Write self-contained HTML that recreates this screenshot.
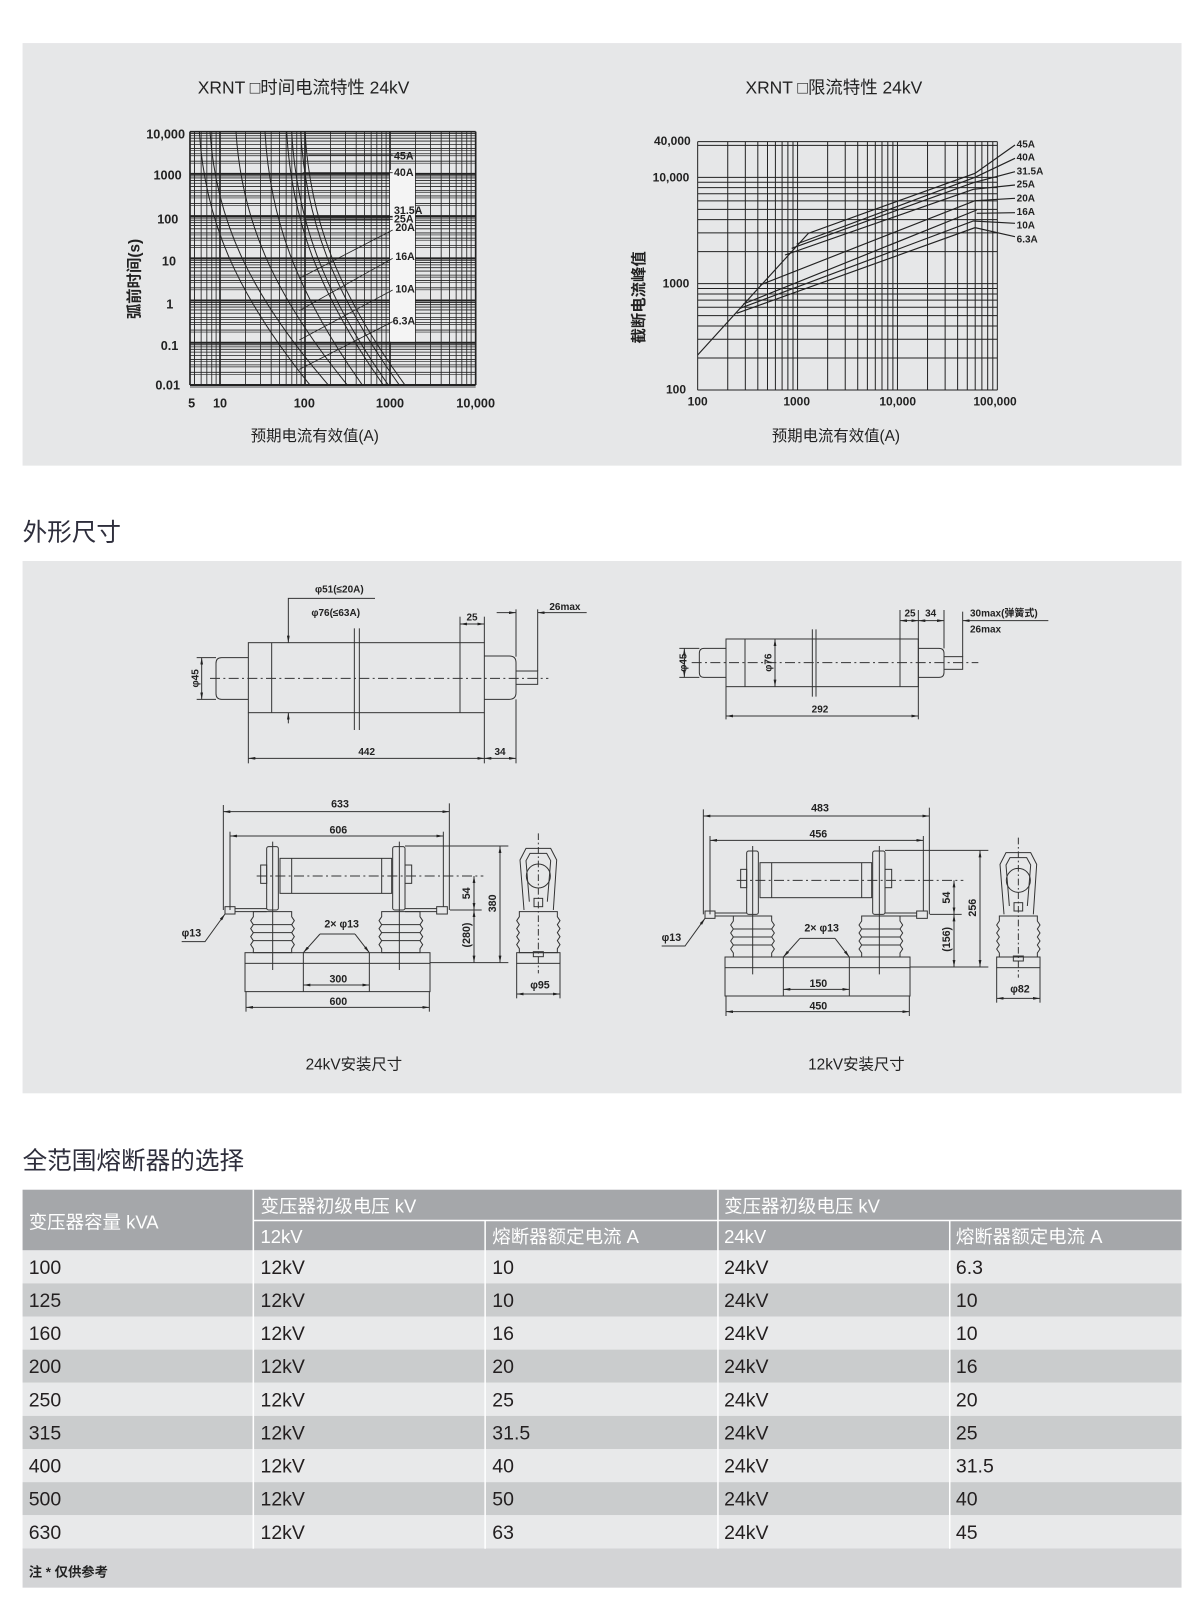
<!DOCTYPE html>
<html><head><meta charset="utf-8">
<style>
html,body{margin:0;padding:0;background:#fff;width:1200px;height:1601px;overflow:hidden}
svg{display:block}
text{font-family:"Liberation Sans","Noto Sans CJK SC",sans-serif}
</style></head>
<body>
<svg id="s" width="1200" height="1601" viewBox="0 0 1170 1561" preserveAspectRatio="none" xmlns="http://www.w3.org/2000/svg">
<defs>
<marker id="a" viewBox="0 0 10 4" refX="10" refY="2" markerWidth="7" markerHeight="2.8" orient="auto-start-reverse" markerUnits="strokeWidth"><path d="M0,0L10,2L0,4z" fill="#222"/></marker>
<g id="asm">
<g stroke="#333" stroke-width="3" fill="none">
<line x1="160" y1="105" x2="160" y2="420"/><line x1="838" y1="100" x2="838" y2="420"/>
<line x1="160" y1="125" x2="838" y2="125" marker-start="url(#a)" marker-end="url(#a)"/>
<line x1="180" y1="185" x2="180" y2="420"/><line x1="820" y1="185" x2="820" y2="410"/>
<line x1="180" y1="198" x2="820" y2="198" marker-start="url(#a)" marker-end="url(#a)"/>
<rect x="330" y="265" width="335" height="105"/>
<line x1="365" y1="265" x2="365" y2="370"/><line x1="635" y1="265" x2="635" y2="370"/>
<line x1="260" y1="318" x2="940" y2="318" stroke-dasharray="30,10,6,10"/>
<rect x="290" y="230" width="35" height="190" rx="6"/><line x1="308" y1="215" x2="308" y2="600"/>
<rect x="272" y="285" width="18" height="55"/>
<rect x="668" y="230" width="37" height="190" rx="6"/><line x1="688" y1="215" x2="688" y2="600"/>
<rect x="705" y="285" width="20" height="55"/>
<rect x="165" y="410" width="30" height="22"/><rect x="800" y="410" width="32" height="22"/>
<line x1="195" y1="416" x2="290" y2="416"/><line x1="195" y1="425" x2="290" y2="425"/>
<line x1="705" y1="416" x2="800" y2="416"/><line x1="705" y1="425" x2="800" y2="425"/>
<path d="M250,425 H365 V440 l8,12 -8,12 l8,12 -8,12 l8,12 -8,12 l8,12 -8,12 V548 H250 V536 l-8,-12 8,-12 -8,-12 8,-12 -8,-12 8,-12 -8,-12 8,-12z"/>
<path d="M635,425 H750 V440 l8,12 -8,12 l8,12 -8,12 l8,12 -8,12 l8,12 -8,12 V548 H635 V536 l-8,-12 8,-12 -8,-12 8,-12 -8,-12 8,-12 -8,-12 8,-12z"/>
<line x1="250" y1="464" x2="365" y2="464"/><line x1="250" y1="488" x2="365" y2="488"/><line x1="250" y1="512" x2="365" y2="512"/>
<line x1="635" y1="464" x2="750" y2="464"/><line x1="635" y1="488" x2="750" y2="488"/><line x1="635" y1="512" x2="750" y2="512"/>
<rect x="225" y="548" width="555" height="32"/>
<path d="M225,580 V665 H780 V580"/>
<polyline points="35,515 105,515 165,432" marker-end="url(#a)"/>
<polyline points="450,492 555,492"/>
<line x1="450" y1="492" x2="400" y2="548" marker-end="url(#a)"/><line x1="555" y1="492" x2="598" y2="548" marker-end="url(#a)"/>
<line x1="400" y1="548" x2="400" y2="665"/><line x1="598" y1="548" x2="598" y2="665"/>
<line x1="400" y1="645" x2="598" y2="645" marker-start="url(#a)" marker-end="url(#a)"/>
<line x1="228" y1="665" x2="228" y2="725"/><line x1="778" y1="665" x2="778" y2="725"/>
<line x1="228" y1="712" x2="778" y2="712" marker-start="url(#a)" marker-end="url(#a)"/>
<line x1="705" y1="228" x2="1015" y2="228"/><line x1="840" y1="420" x2="935" y2="420"/><line x1="780" y1="578" x2="1015" y2="578"/>
<line x1="912" y1="318" x2="912" y2="420" marker-start="url(#a)" marker-end="url(#a)"/>
<line x1="912" y1="420" x2="912" y2="578" marker-start="url(#a)" marker-end="url(#a)"/>
<line x1="990" y1="228" x2="990" y2="578" marker-start="url(#a)" marker-end="url(#a)"/>
<path d="M1062,420 L1050,270 L1068,235 H1142 L1160,270 L1150,420"/>
<path d="M1078,395 L1068,272 L1080,250 H1130 L1142,272 L1132,395"/>
<circle cx="1105" cy="318" r="36"/>
<rect x="1092" y="385" width="26" height="25"/>
<path d="M1048,425 H1162 V440 l8,12 -8,12 l8,12 -8,12 l8,12 -8,12 l8,12 -8,12 V548 H1048 V536 l-8,-12 8,-12 -8,-12 8,-12 -8,-12 8,-12 -8,-12 8,-12z"/>
<rect x="1040" y="548" width="130" height="32"/><rect x="1090" y="545" width="30" height="15"/>
<line x1="1105" y1="190" x2="1105" y2="610" stroke-dasharray="20,8,5,8"/>
<line x1="1040" y1="580" x2="1040" y2="685"/><line x1="1170" y1="580" x2="1170" y2="685"/>
<line x1="1040" y1="672" x2="1170" y2="672" marker-start="url(#a)" marker-end="url(#a)"/>
</g>
</g>
</defs>
<rect x="0" y="0" width="1170" height="1561" fill="#fff"/>
<rect x="22" y="42" width="1130" height="412" fill="#e6e7e8"/>
<rect x="22" y="547" width="1130" height="519" fill="#e6e7e8"/>

<text x="296" y="91" font-size="17" text-anchor="middle" fill="#222">XRNT □时间电流特性 24kV</text>
<text x="813" y="91" font-size="17" text-anchor="middle" fill="#222">XRNT □限流特性 24kV</text>
<text x="307" y="430" font-size="15" text-anchor="middle" fill="#222">预期电流有效值(A)</text>
<text x="815" y="430" font-size="15" text-anchor="middle" fill="#222">预期电流有效值(A)</text>
<text transform="translate(136,272) rotate(-90)" font-size="15" text-anchor="middle" fill="#222" font-weight="bold">弧前时间(s)</text>
<text transform="translate(628,290) rotate(-90)" font-size="15" text-anchor="middle" fill="#222" font-weight="bold">截断电流峰值</text>

<g transform="translate(107.25,117) scale(0.325)">
<g id="lg" stroke="#222" fill="none"></g>
<rect x="840" y="150" width="75" height="515" fill="#f4f4f4"/>
<g stroke="#222" stroke-width="3" fill="none" id="lc"></g>
<g stroke="#222" stroke-width="2.5">
<line x1="595" y1="105" x2="848" y2="105"/><line x1="578" y1="158" x2="848" y2="158"/>
<line x1="580" y1="290" x2="848" y2="290" stroke-width="5"/><line x1="580" y1="298" x2="848" y2="298"/>
<line x1="568" y1="475" x2="848" y2="330"/><line x1="568" y1="572" x2="848" y2="415"/>
<line x1="568" y1="660" x2="848" y2="510"/><line x1="568" y1="748" x2="848" y2="605"/>
</g>
<g font-size="32" font-weight="bold" fill="#222">
<text x="852" y="118">45A</text><text x="852" y="168">40A</text><text x="852" y="282">31.5A</text><text x="852" y="307">25A</text><text x="856" y="333">20A</text><text x="856" y="420">16A</text><text x="856" y="517">10A</text><text x="848" y="614">6.3A</text>
</g>
<g font-size="38" font-weight="bold" fill="#222" text-anchor="end">
<text x="225" y="56">10,000</text><text x="215" y="178">1000</text><text x="205" y="310">100</text><text x="198" y="436">10</text><text x="190" y="566">1</text><text x="205" y="690">0.1</text><text x="210" y="808">0.01</text>
</g>
<g font-size="38" font-weight="bold" fill="#222" text-anchor="middle">
<text x="245" y="862">5</text><text x="330" y="862">10</text><text x="583" y="862">100</text><text x="840" y="862">1000</text><text x="1097" y="862">10,000</text>
</g>
</g>

<g transform="translate(585,117) scale(0.325)">
<g id="rg" stroke="#222" fill="none"></g>
<g stroke="#222" stroke-width="3.5" fill="none">
<polyline points="293,705 625,340 1125,160 1245,75"/>
<polyline points="590,372 1125,172 1245,115"/>
<polyline points="575,385 1120,188 1245,155"/>
<polyline points="555,405 1120,208 1245,195"/>
<polyline points="480,495 1125,242 1245,235"/>
<polyline points="430,552 1130,270"/><line x1="1130" y1="280" x2="1245" y2="278"/>
<polyline points="420,565 1120,303 1245,310"/>
<polyline points="410,580 1125,323 1245,350"/>
</g>
<g font-size="30" font-weight="bold" fill="#222">
<text x="1250" y="82">45A</text><text x="1250" y="122">40A</text><text x="1250" y="163">31.5A</text><text x="1250" y="203">25A</text><text x="1250" y="245">20A</text><text x="1250" y="285">16A</text><text x="1250" y="325">10A</text><text x="1250" y="367">6.3A</text>
</g>
<g font-size="36" font-weight="bold" fill="#222" text-anchor="end">
<text x="272" y="75">40,000</text><text x="268" y="185">10,000</text><text x="268" y="502">1000</text><text x="258" y="820">100</text>
</g>
<g font-size="36" font-weight="bold" fill="#222" text-anchor="middle">
<text x="293" y="857">100</text><text x="590" y="857">1000</text><text x="893" y="857">10,000</text><text x="1185" y="857">100,000</text>
</g>
</g>

<text x="22" y="527" font-size="24" fill="#2e2e3c">外形尺寸</text>

<g transform="translate(165.76,546.02) scale(0.325)" stroke="#333" stroke-width="3" fill="none">
<rect x="235" y="248" width="708" height="210"/>
<line x1="305" y1="248" x2="305" y2="458"/><line x1="870" y1="248" x2="870" y2="458"/>
<line x1="553" y1="205" x2="553" y2="510"/><line x1="568" y1="205" x2="568" y2="510"/>
<path d="M235,293 H155 Q138,293 138,310 V401 Q138,418 155,418 H235"/>
<path d="M943,288 H1018 Q1038,288 1038,308 V398 Q1038,418 1018,418 H943"/>
<rect x="1038" y="333" width="65" height="40"/>
<line x1="120" y1="355" x2="1135" y2="355" stroke-dasharray="30,10,6,10"/>
<line x1="80" y1="293" x2="138" y2="293"/><line x1="80" y1="418" x2="138" y2="418"/>
<line x1="95" y1="293" x2="95" y2="418" marker-start="url(#a)" marker-end="url(#a)"/>
<polyline points="615,115 355,115 355,248" marker-end="url(#a)"/>
<line x1="355" y1="490" x2="355" y2="458" marker-end="url(#a)"/>
<line x1="870" y1="170" x2="870" y2="248"/><line x1="943" y1="170" x2="943" y2="248"/>
<line x1="870" y1="192" x2="943" y2="192" marker-start="url(#a)" marker-end="url(#a)"/>
<line x1="1038" y1="148" x2="1038" y2="290"/><line x1="1103" y1="148" x2="1103" y2="333"/>
<line x1="980" y1="158" x2="1038" y2="158" marker-end="url(#a)"/>
<line x1="1250" y1="158" x2="1103" y2="158" marker-end="url(#a)"/>
<line x1="235" y1="458" x2="235" y2="610"/><line x1="943" y1="458" x2="943" y2="610"/><line x1="1038" y1="418" x2="1038" y2="610"/>
<line x1="235" y1="595" x2="943" y2="595" marker-start="url(#a)" marker-end="url(#a)"/>
<line x1="943" y1="595" x2="1038" y2="595" marker-start="url(#a)" marker-end="url(#a)"/>
<g stroke="none" fill="#222" font-size="30" font-weight="bold">
<text x="508" y="98" text-anchor="middle">φ51(≤20A)</text>
<text x="497" y="168" text-anchor="middle">φ76(≤63A)</text>
<text x="906" y="182" text-anchor="middle">25</text>
<text x="1138" y="150">26max</text>
<text transform="translate(85,355) rotate(-90)" text-anchor="middle">φ45</text>
<text x="590" y="585" text-anchor="middle">442</text>
<text x="990" y="585" text-anchor="middle">34</text>
</g>
</g>

<g transform="translate(624,565.5) scale(0.325)" stroke="#333" stroke-width="3" fill="none">
<rect x="258" y="177" width="577" height="143"/>
<line x1="315" y1="177" x2="315" y2="320"/><line x1="780" y1="90" x2="780" y2="320"/>
<line x1="517" y1="148" x2="517" y2="350"/><line x1="528" y1="148" x2="528" y2="350"/>
<path d="M258,205 H192 Q178,205 178,220 V277 Q178,292 192,292 H258"/>
<path d="M835,205 H897 Q912,205 912,220 V277 Q912,292 897,292 H835"/>
<rect x="912" y="230" width="56" height="38"/>
<line x1="155" y1="248" x2="1015" y2="248" stroke-dasharray="30,10,6,10"/>
<line x1="118" y1="205" x2="178" y2="205"/><line x1="118" y1="292" x2="178" y2="292"/>
<line x1="133" y1="205" x2="133" y2="292" marker-start="url(#a)" marker-end="url(#a)"/>
<line x1="405" y1="177" x2="405" y2="320" marker-start="url(#a)" marker-end="url(#a)"/>
<line x1="258" y1="320" x2="258" y2="418"/><line x1="835" y1="90" x2="835" y2="418"/>
<line x1="258" y1="408" x2="835" y2="408" marker-start="url(#a)" marker-end="url(#a)"/>
<line x1="780" y1="122" x2="835" y2="122" marker-start="url(#a)" marker-end="url(#a)"/>
<line x1="912" y1="90" x2="912" y2="205"/>
<line x1="835" y1="122" x2="912" y2="122" marker-start="url(#a)" marker-end="url(#a)"/>
<line x1="968" y1="95" x2="968" y2="230"/>
<line x1="1225" y1="122" x2="968" y2="122" marker-end="url(#a)"/>
<g stroke="none" fill="#222" font-size="30" font-weight="bold">
<text x="810" y="110" text-anchor="middle">25</text>
<text x="872" y="110" text-anchor="middle">34</text>
<text x="990" y="110">30max(弹簧式)</text>
<text x="990" y="157">26max</text>
<text transform="translate(140,248) rotate(-90)" text-anchor="middle">φ45</text>
<text transform="translate(395,248) rotate(-90)" text-anchor="middle">φ76</text>
<text x="540" y="398" text-anchor="middle">292</text>
</g>
</g>

<g transform="translate(165.76,750.78) scale(0.325)">
<use href="#asm"/>
<g fill="#222" font-size="32" font-weight="bold">
<text x="510" y="112" text-anchor="middle">633</text>
<text x="505" y="190" text-anchor="middle">606</text>
<text x="35" y="500">φ13</text>
<text x="515" y="472" text-anchor="middle">2× φ13</text>
<text x="505" y="638" text-anchor="middle">300</text>
<text x="505" y="705" text-anchor="middle">600</text>
<text transform="translate(900,370) rotate(-90)" text-anchor="middle">54</text>
<text transform="translate(900,495) rotate(-90)" text-anchor="middle">(280)</text>
<text transform="translate(978,400) rotate(-90)" text-anchor="middle">380</text>
<text x="1110" y="655" text-anchor="middle">φ95</text>
</g>
</g>
<g transform="translate(633.76,755) scale(0.325)">
<use href="#asm"/>
<g fill="#222" font-size="32" font-weight="bold">
<text x="510" y="112" text-anchor="middle">483</text>
<text x="505" y="190" text-anchor="middle">456</text>
<text x="35" y="500">φ13</text>
<text x="515" y="472" text-anchor="middle">2× φ13</text>
<text x="505" y="638" text-anchor="middle">150</text>
<text x="505" y="705" text-anchor="middle">450</text>
<text transform="translate(900,370) rotate(-90)" text-anchor="middle">54</text>
<text transform="translate(900,495) rotate(-90)" text-anchor="middle">(156)</text>
<text transform="translate(978,400) rotate(-90)" text-anchor="middle">256</text>
<text x="1110" y="655" text-anchor="middle">φ82</text>
</g>
</g>
<text x="345" y="1043" font-size="15" text-anchor="middle" fill="#222">24kV安装尺寸</text>
<text x="835" y="1043" font-size="15" text-anchor="middle" fill="#222">12kV安装尺寸</text>

<text x="22" y="1140" font-size="24" fill="#2e2e3c">全范围熔断器的选择</text>
<g id="tbl"></g>
<rect x="22" y="1160" width="1130" height="59" fill="#a5a7aa"/>
<g stroke="#fff" stroke-width="1.5">
<line x1="247" y1="1160" x2="247" y2="1510"/><line x1="700" y1="1160" x2="700" y2="1510"/>
<line x1="473" y1="1190" x2="473" y2="1510"/><line x1="926" y1="1190" x2="926" y2="1510"/>
<line x1="247" y1="1190" x2="1152" y2="1190"/>
</g>
<g fill="#fff" font-size="18">
<text x="28" y="1198">变压器容量 kVA</text>
<text x="254" y="1182">变压器初级电压 kV</text><text x="706" y="1182">变压器初级电压 kV</text>
<text x="254" y="1212">12kV</text><text x="480" y="1212">熔断器额定电流 A</text>
<text x="706" y="1212">24kV</text><text x="932" y="1212">熔断器额定电流 A</text>
</g>
<text x="28" y="1537" font-size="13" font-weight="bold" fill="#222">注 * 仅供参考</text>

<script>
var NS="http://www.w3.org/2000/svg";
function L(p,x1,y1,x2,y2,w){var l=document.createElementNS(NS,"line");l.setAttribute("x1",x1);l.setAttribute("y1",y1);l.setAttribute("x2",x2);l.setAttribute("y2",y2);if(w)l.setAttribute("stroke-width",w);p.appendChild(l);}
var lg=document.getElementById("lg");
function px(v){return 330+255*Math.log10(v/10);}function py(t){return 35+126.67*(4-Math.log10(t));}
for(var d=0;d<=3;d++)for(var m=1;m<=9;m++){var v=m*Math.pow(10,d);var x=px(v);if(x>=240&&x<=1097)L(lg,x,35,x,795,m==1?5:2.5);}
L(lg,px(5),35,px(5),795,2.5);L(lg,1097,35,1097,795,5);L(lg,240,35,240,795,5);
for(var d=-2;d<=3;d++)for(var m=1;m<=9;m++){var t=m*Math.pow(10,d);var y=py(t);L(lg,240,y,1097,y,m==1?6:2.5);if(m<5)L(lg,240,y+6,1097,y+6,2);}
L(lg,240,35,1097,35,5);
var lc=document.getElementById("lc");
[[268,600],[300,655],[378,712],[465,757],[530,820],[545,835],[572,868],[585,885]].forEach(function(c){var t=c[0],b=c[1],dd=b-t;var p=document.createElementNS(NS,"path");p.setAttribute("d","M"+t+",35 C"+(t+0.05*dd)+",300 "+(t+0.33*dd)+",520 "+b+",795");lc.appendChild(p);});
var rg=document.getElementById("rg");
function qx(v){return 293+299.7*Math.log10(v/100);}function qy(v){return 810-319*Math.log10(v/100);}
for(var d=2;d<=4;d++)for(var m=1;m<=9;m++){var v=m*Math.pow(10,d);L(rg,qx(v),65,qx(v),810,3);var y=qy(v);if(y>=65)L(rg,293,y,1192,y,3);}
L(rg,1192,65,1192,810,3);L(rg,293,65,1192,65,3);L(rg,293,810,1192,810,3);
var tb=document.getElementById("tbl");
var rows=[["100","12kV","10","24kV","6.3"],["125","12kV","10","24kV","10"],["160","12kV","16","24kV","10"],["200","12kV","20","24kV","16"],["250","12kV","25","24kV","20"],["315","12kV","31.5","24kV","25"],["400","12kV","40","24kV","31.5"],["500","12kV","50","24kV","40"],["630","12kV","63","24kV","45"]];
var cx=[28,254,480,706,932];
rows.forEach(function(r,i){var y=1219+i*32.3;var re=document.createElementNS(NS,"rect");re.setAttribute("x",22);re.setAttribute("y",y);re.setAttribute("width",1130);re.setAttribute("height",32.3);re.setAttribute("fill",i%2?"#cacccd":"#e8e9ea");tb.appendChild(re);
r.forEach(function(s,j){var t=document.createElementNS(NS,"text");t.setAttribute("x",cx[j]);t.setAttribute("y",y+23);t.setAttribute("font-size","19");t.setAttribute("fill","#231f20");t.textContent=s;tb.appendChild(t);});});
var re=document.createElementNS(NS,"rect");re.setAttribute("x",22);re.setAttribute("y",1509.7);re.setAttribute("width",1130);re.setAttribute("height",38.3);re.setAttribute("fill","#d3d4d6");tb.appendChild(re);
</script>
</svg>
</body></html>
